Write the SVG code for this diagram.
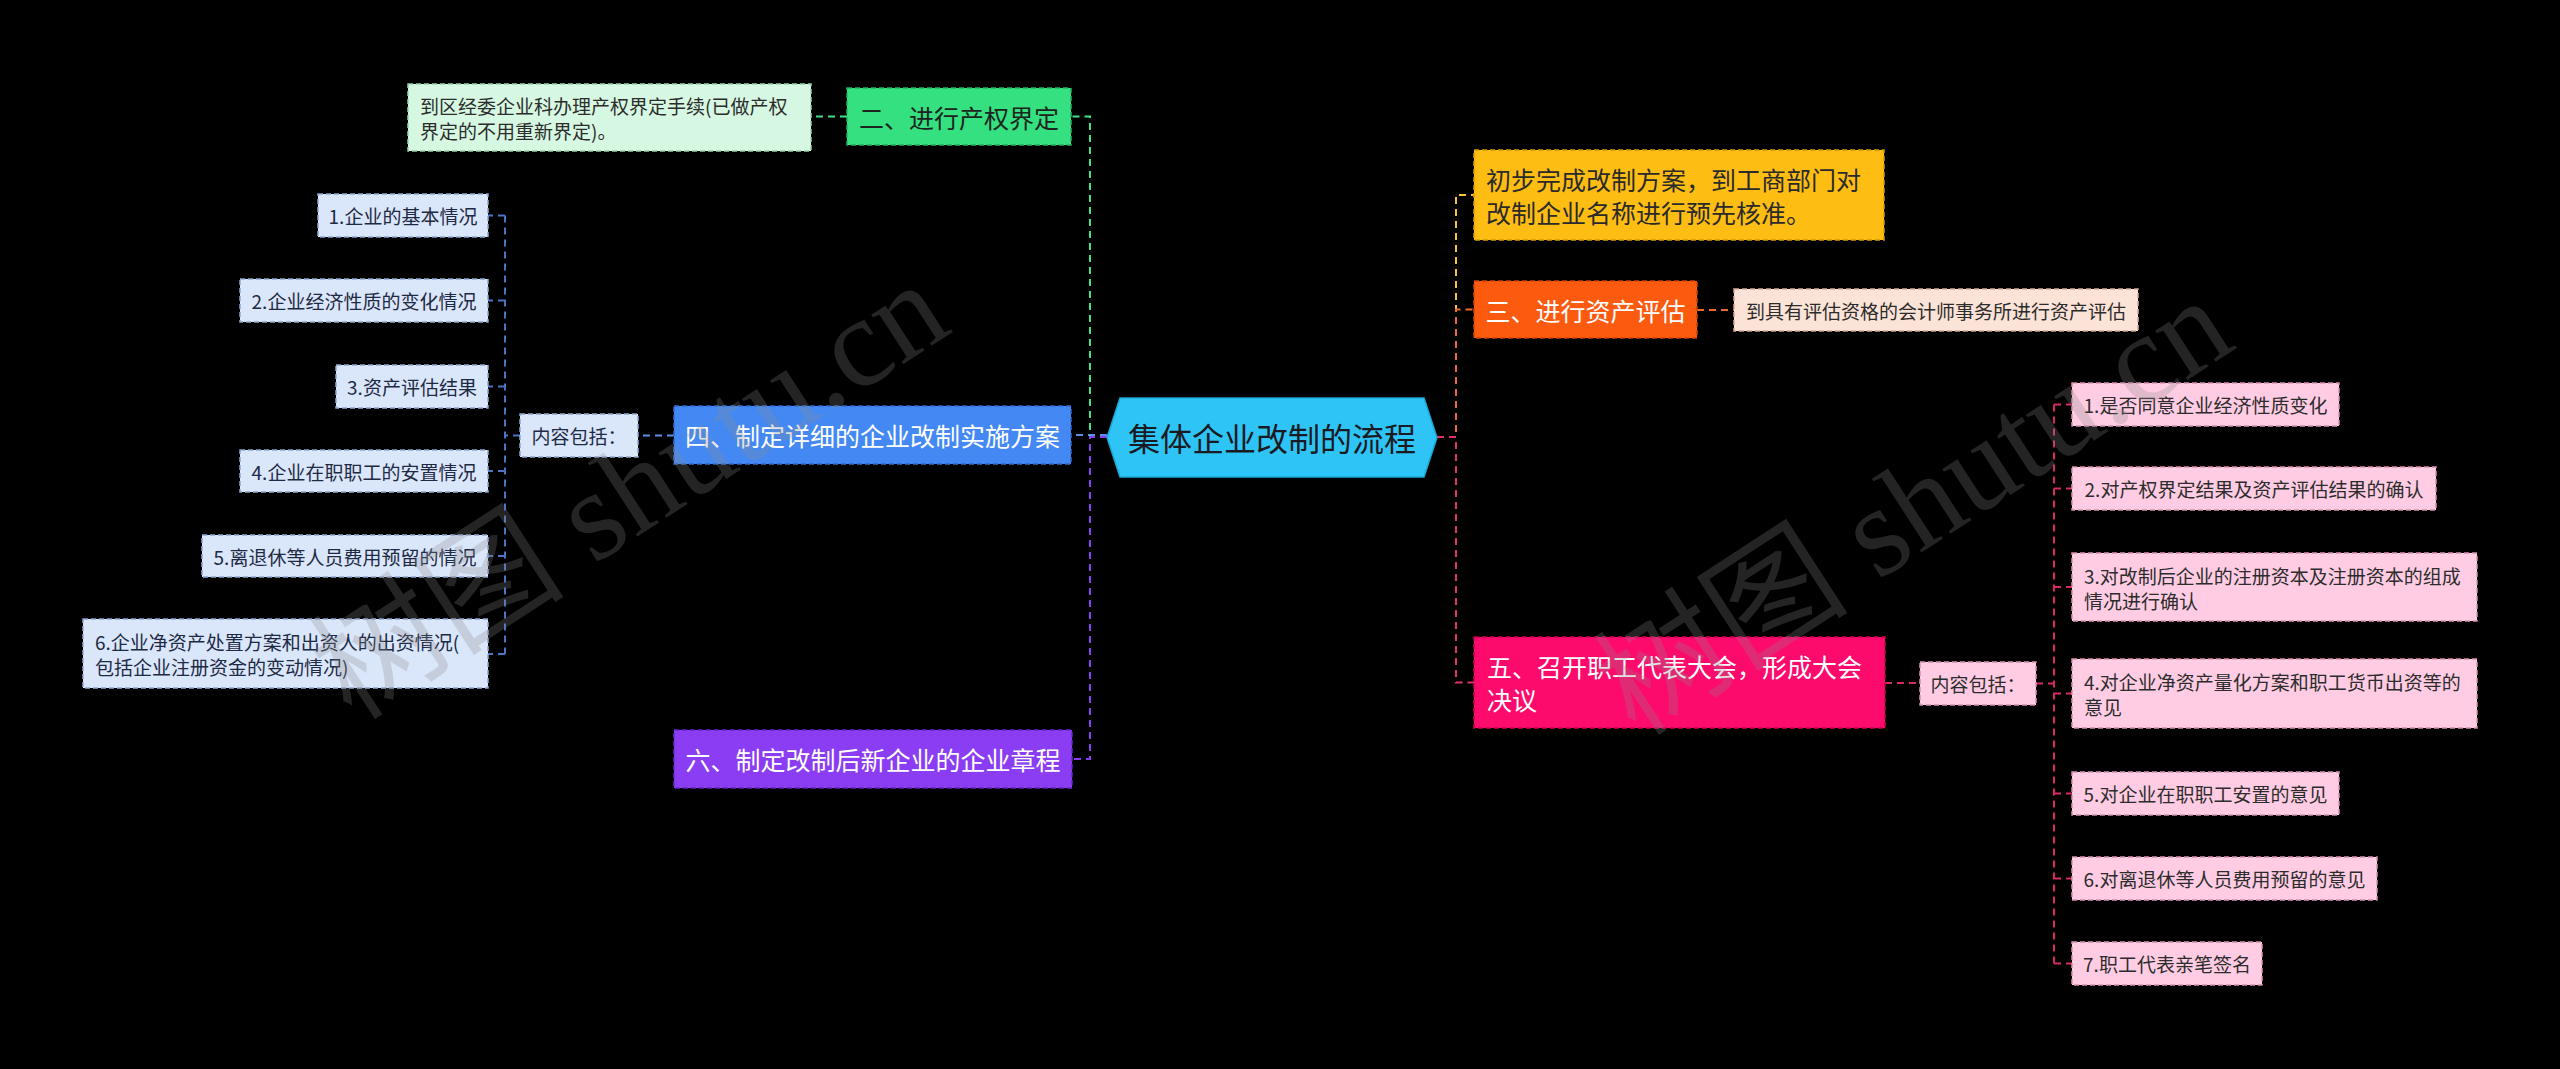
<svg xmlns="http://www.w3.org/2000/svg" width="2560" height="1069" viewBox="0 0 2560 1069">
<style>
text { font-family: 'Noto Sans CJK SC', 'Noto Sans', sans-serif; dominant-baseline: central; }
.main { font-size: 25px; }
.leaf { font-size: 19px; }
.mid { text-anchor: middle; }
.box { stroke-width: 1.5; stroke-dasharray: 5 3; }
.c { fill: none; stroke-width: 2; stroke-dasharray: 7 5; }
.wm { font-family: 'Liberation Serif', 'Noto Sans CJK SC', serif; font-size: 128px; fill: #8a8a8a; opacity: 0.26; dominant-baseline: alphabetic; }
</style>
<rect x="0" y="0" width="2560" height="1069" fill="#000"/>

<g id="connectors">
  <path class="c" stroke="#5c8fe6" d="M1107,435 H1071"/>
  <path class="c" stroke="#3fe08a" d="M1107,437 H1090 V116.5 H1071"/>
  <path class="c" stroke="#8a3df2" d="M1107,437 H1090 V759 H1072"/>
  <path class="c" stroke="#3fe08a" d="M847,116.5 H811"/>
  <path class="c" stroke="#5c8fe6" d="M674,435.5 H638"/>
  <path class="c" stroke="#4a74c4" d="M520,435.5 H505 M505,215.5 V654 M505,215.5 H488 M505,300.5 H488 M505,386.5 H488 M505,471 H488 M505,556 H488 M505,654 H488"/>
  <path class="c" stroke="#f7c240" d="M1437,437 H1456 V195 H1474"/>
  <path class="c" stroke="#eb6a30" d="M1437,437 H1456 V309.5 H1474"/>
  <path class="c" stroke="#e0306e" d="M1437,437 H1456 V682.5 H1474"/>
  <path class="c" stroke="#eb6a30" d="M1697,310 H1734"/>
  <path class="c" stroke="#d62a64" d="M1885,683 H1920"/>
  <path class="c" stroke="#d62a64" d="M2036,683.5 H2054 M2054,404.5 V963.5 M2054,404.5 H2072 M2054,488.5 H2072 M2054,587 H2072 M2054,693.5 H2072 M2054,793.5 H2072 M2054,878.5 H2072 M2054,963.5 H2072"/>
</g>

<g id="center">
  <polygon points="1107,437.5 1120,398 1424,398 1437,437.5 1424,477 1120,477" fill="#2ec4f5" stroke="#1ba6d6" stroke-width="1.5"/>
  <text x="1272" y="437" class="mid" font-size="32" fill="#1a1a22">集体企业改制的流程</text>
</g>

<g id="n2">
  <rect class="box" x="847" y="88" width="224" height="57" fill="#34e07f" stroke="#22b062"/>
  <text class="main mid" x="959" y="116.5" fill="#1d2420">二、进行产权界定</text>
</g>
<g id="n2-leaf">
  <rect class="box" x="408" y="84" width="403" height="67" fill="#d6f8e2" stroke="#96d2ab"/>
  <text class="leaf" x="420" y="105" fill="#2c2c2c">到区经委企业科办理产权界定手续(已做产权</text>
  <text class="leaf" x="420" y="130" fill="#2c2c2c">界定的不用重新界定)。</text>
</g>

<g id="n4">
  <rect class="box" x="674" y="406" width="397" height="58" fill="#4489f3" stroke="#2e6ad0"/>
  <text class="main mid" x="872.5" y="435" fill="#ffffff">四、制定详细的企业改制实施方案</text>
</g>
<g id="n4-content">
  <rect class="box" x="520" y="414" width="118" height="43" fill="#dae6fa" stroke="#8ea6cf"/>
  <text class="leaf mid" x="579" y="435.5" fill="#1e2a44">内容包括：</text>
</g>
<g id="n4-1">
  <rect class="box" x="318" y="194" width="170" height="43" fill="#dae6fa" stroke="#8ea6cf"/>
  <text class="leaf mid" x="403" y="215.5" fill="#1e2a44">1.企业的基本情况</text>
</g>
<g id="n4-2">
  <rect class="box" x="240" y="279" width="248" height="43" fill="#dae6fa" stroke="#8ea6cf"/>
  <text class="leaf mid" x="364" y="300.5" fill="#1e2a44">2.企业经济性质的变化情况</text>
</g>
<g id="n4-3">
  <rect class="box" x="336" y="365" width="152" height="43" fill="#dae6fa" stroke="#8ea6cf"/>
  <text class="leaf mid" x="412" y="386.5" fill="#1e2a44">3.资产评估结果</text>
</g>
<g id="n4-4">
  <rect class="box" x="240" y="450" width="248" height="42" fill="#dae6fa" stroke="#8ea6cf"/>
  <text class="leaf mid" x="364" y="471" fill="#1e2a44">4.企业在职职工的安置情况</text>
</g>
<g id="n4-5">
  <rect class="box" x="202" y="535" width="286" height="42" fill="#dae6fa" stroke="#8ea6cf"/>
  <text class="leaf mid" x="345" y="556" fill="#1e2a44">5.离退休等人员费用预留的情况</text>
</g>
<g id="n4-6">
  <rect class="box" x="83" y="619" width="405" height="69" fill="#dae6fa" stroke="#8ea6cf"/>
  <text class="leaf" x="95" y="641" fill="#1e2a44">6.企业净资产处置方案和出资人的出资情况(</text>
  <text class="leaf" x="95" y="666" fill="#1e2a44">包括企业注册资金的变动情况)</text>
</g>

<g id="n6">
  <rect class="box" x="674" y="730" width="398" height="58" fill="#8a3df2" stroke="#6a26cc"/>
  <text class="main mid" x="873" y="759" fill="#ffffff">六、制定改制后新企业的企业章程</text>
</g>

<g id="n1">
  <rect class="box" x="1474" y="150" width="410" height="90" fill="#fdbd12" stroke="#d49a00"/>
  <text class="main" x="1486" y="178.5" fill="#2a2a2a">初步完成改制方案，到工商部门对</text>
  <text class="main" x="1486" y="211.5" fill="#2a2a2a">改制企业名称进行预先核准。</text>
</g>

<g id="n3">
  <rect class="box" x="1474" y="281" width="223" height="57" fill="#fc5a0e" stroke="#d04400"/>
  <text class="main mid" x="1585.5" y="309.5" fill="#ffffff">三、进行资产评估</text>
</g>
<g id="n3-leaf">
  <rect class="box" x="1734" y="289" width="404" height="42" fill="#fce3d7" stroke="#d8aa96"/>
  <text class="leaf mid" x="1936" y="310" fill="#2c2c2c">到具有评估资格的会计师事务所进行资产评估</text>
</g>

<g id="n5">
  <rect class="box" x="1474" y="637" width="411" height="91" fill="#fc0a6c" stroke="#c8004f"/>
  <text class="main" x="1487" y="666" fill="#ffffff">五、召开职工代表大会，形成大会</text>
  <text class="main" x="1487" y="699" fill="#ffffff">决议</text>
</g>
<g id="n5-content">
  <rect class="box" x="1920" y="662" width="116" height="43" fill="#ffcce3" stroke="#d890b0"/>
  <text class="leaf mid" x="1978" y="683.5" fill="#2c2c2c">内容包括：</text>
</g>
<g id="n5-1">
  <rect class="box" x="2072" y="383" width="267" height="43" fill="#ffcce3" stroke="#d890b0"/>
  <text class="leaf mid" x="2205.5" y="404.5" fill="#2c2c2c">1.是否同意企业经济性质变化</text>
</g>
<g id="n5-2">
  <rect class="box" x="2072" y="467" width="364" height="43" fill="#ffcce3" stroke="#d890b0"/>
  <text class="leaf mid" x="2254" y="488.5" fill="#2c2c2c">2.对产权界定结果及资产评估结果的确认</text>
</g>
<g id="n5-3">
  <rect class="box" x="2072" y="553" width="405" height="68" fill="#ffcce3" stroke="#d890b0"/>
  <text class="leaf" x="2084" y="575" fill="#2c2c2c">3.对改制后企业的注册资本及注册资本的组成</text>
  <text class="leaf" x="2084" y="600" fill="#2c2c2c">情况进行确认</text>
</g>
<g id="n5-4">
  <rect class="box" x="2072" y="659" width="405" height="69" fill="#ffcce3" stroke="#d890b0"/>
  <text class="leaf" x="2084" y="681" fill="#2c2c2c">4.对企业净资产量化方案和职工货币出资等的</text>
  <text class="leaf" x="2084" y="706" fill="#2c2c2c">意见</text>
</g>
<g id="n5-5">
  <rect class="box" x="2072" y="772" width="267" height="43" fill="#ffcce3" stroke="#d890b0"/>
  <text class="leaf mid" x="2205.5" y="793.5" fill="#2c2c2c">5.对企业在职职工安置的意见</text>
</g>
<g id="n5-6">
  <rect class="box" x="2072" y="857" width="305" height="43" fill="#ffcce3" stroke="#d890b0"/>
  <text class="leaf mid" x="2224.5" y="878.5" fill="#2c2c2c">6.对离退休等人员费用预留的意见</text>
</g>
<g id="n5-7">
  <rect class="box" x="2072" y="942" width="190" height="43" fill="#ffcce3" stroke="#d890b0"/>
  <text class="leaf mid" x="2167" y="963.5" fill="#2c2c2c">7.职工代表亲笔签名</text>
</g>

<g id="watermarks">
  <text class="wm" transform="translate(352,722) rotate(-33)">树图 shutu.cn</text>
  <text class="wm" transform="translate(1636,738) rotate(-33)">树图 shutu.cn</text>
</g>
</svg>
